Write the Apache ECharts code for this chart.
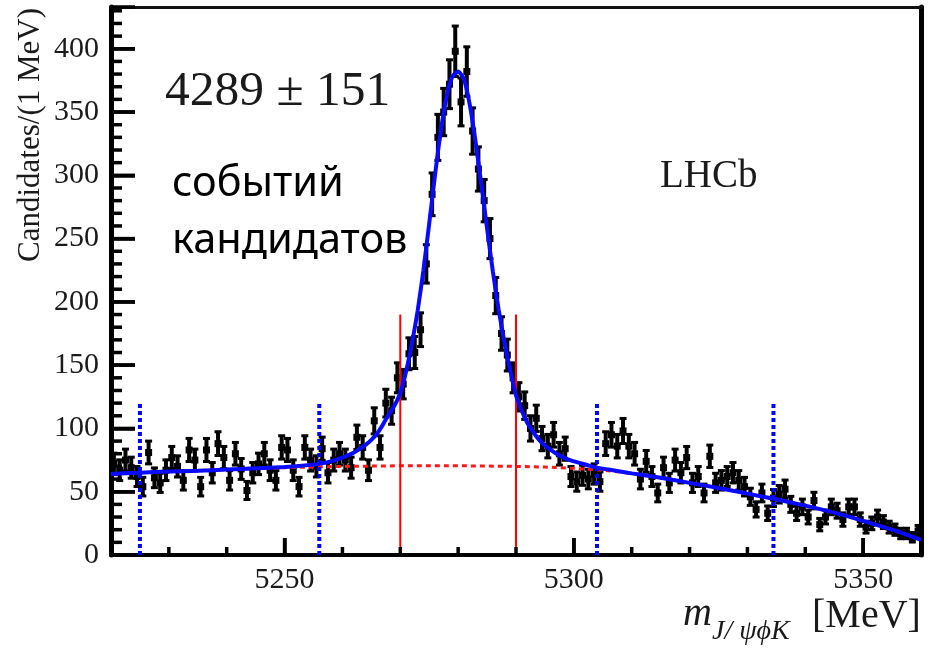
<!DOCTYPE html>
<html><head><meta charset="utf-8">
<script src="https://cdn.jsdelivr.net/npm/echarts@6/dist/echarts.min.js"></script>
<style>html,body{margin:0;padding:0;background:#fff}#c{width:932px;height:648px}</style>
</head><body><div id="c"></div>
<script>
// bin centres, MeV (1 MeV bins)
const binMass = [
5220.5,5221.5,5222.5,5223.5,5224.5,5225.5,5226.5,5227.5,5228.5,5229.5,
5230.5,5231.5,5232.5,5233.5,5234.5,5235.5,5236.5,5237.5,5238.5,5239.5,
5240.5,5241.5,5242.5,5243.5,5244.5,5245.5,5246.5,5247.5,5248.5,5249.5,
5250.5,5251.5,5252.5,5253.5,5254.5,5255.5,5256.5,5257.5,5258.5,5259.5,
5260.5,5261.5,5262.5,5263.5,5264.5,5265.5,5266.5,5267.5,5268.5,5269.5,
5270.5,5271.5,5272.5,5273.5,5274.5,5275.5,5276.5,5277.5,5278.5,5279.5,
5280.5,5281.5,5282.5,5283.5,5284.5,5285.5,5286.5,5287.5,5288.5,5289.5,
5290.5,5291.5,5292.5,5293.5,5294.5,5295.5,5296.5,5297.5,5298.5,5299.5,
5300.5,5301.5,5302.5,5303.5,5304.5,5305.5,5306.5,5307.5,5308.5,5309.5,
5310.5,5311.5,5312.5,5313.5,5314.5,5315.5,5316.5,5317.5,5318.5,5319.5,
5320.5,5321.5,5322.5,5323.5,5324.5,5325.5,5326.5,5327.5,5328.5,5329.5,
5330.5,5331.5,5332.5,5333.5,5334.5,5335.5,5336.5,5337.5,5338.5,5339.5,
5340.5,5341.5,5342.5,5343.5,5344.5,5345.5,5346.5,5347.5,5348.5,5349.5,
5350.5,5351.5,5352.5,5353.5,5354.5,5355.5,5356.5,5357.5,5358.5,5359.5];
// candidates per bin
const candidates = [
72,67,75,69,62,54,81,61,57,67,
77,70,59,83,75,54,83,65,88,77,
59,80,68,51,65,72,80,67,59,85,
83,67,54,85,75,70,84,65,75,80,
75,69,93,85,67,106,85,120,114,140,
135,159,160,178,230,285,330,350,372,398,
358,382,335,305,280,250,205,175,158,140,
125,118,100,108,92,86,95,80,84,62,
58,63,60,64,58,88,95,86,98,86,
80,60,74,62,49,69,57,75,65,77,
57,62,49,78,57,59,62,65,59,54,
46,36,49,33,45,48,52,40,33,38,
30,43,24,30,38,35,28,38,38,28,
22,25,30,26,22,20,17,17,14,19];
// total fit (blue)
const fitMass = [5220,5225,5230,5235,5240,5245,5250,5253,5256,5258,5260,5262,5264,5265,5266,5267,5268,5269,5270,5271,5272,5273,5274,5275,5276,5277,5278,5279,5280,5281,5282,5283,5284,5285,5286,5287,5288,5289,5290,5291,5292,5293,5294,5295,5296,5297,5298,5299,5300,5302,5304,5306,5308,5310,5315,5320,5325,5330,5335,5340,5345,5350,5355,5360];
const fitValue = [64,65,66,66.5,67.5,68.5,69.5,70.5,72,74,77,81,87,91,96,103,111,118,128,145,167,193,225,262,300,335,362,378,382,376,356,327,293,258,224,194,168,146,126,114,104,97,91,86.5,83,80,77.5,75.5,74,71.5,69,67.5,66,64.5,61,57,53,48.5,44,39,33.5,27,20,12];
// background component (red dotted)
const bkgMass = [5220,5230,5240,5250,5260,5270,5280,5290,5295,5300,5305,5310,5315,5320,5325,5330,5335,5340,5345,5350,5355,5360];
const bkgValue = [64,66,67.5,69,70,70.5,70.5,70,69.5,68.5,67,64.5,61,57,53,48.5,44,39,33.5,27,20,12];
// signal window (red) and sideband limits (blue dotted)
const signalLines = [5270, 5290];
const signalLineTop = 190;
const sidebandLines = [5225, 5256, 5304, 5334.5];
const sidebandLineTop = 120;
// axis ticks
const xTickLabels = [5250, 5300, 5350];
const xMinorTicks = [5230,5240,5260,5270,5280,5290,5310,5320,5330,5340];
const yTickLabels = [0,50,100,150,200,250,300,350,400];
const yMinorTicks = [10,20,30,40,60,70,80,90,110,120,130,140,160,170,180,190,210,220,230,240,260,270,280,290,310,320,330,340,360,370,380,390,410,420,430];
const xMin = 5220, xMax = 5360, yMin = 0, yMax = 433;

const serif = "'Liberation Serif', 'DejaVu Serif', serif";
const tickColor = '#1a1a1a';

const pts = binMass.map((m, i) => [m, candidates[i], Math.sqrt(candidates[i])]);

const series = [];
series.push({
  type: 'custom', z: 2, data: pts, clip: true,
  renderItem(params, api) {
    const x = api.value(0), v = api.value(1), e = api.value(2);
    const c = api.coord([x, v]);
    const t = api.coord([x, v + e]);
    const b = api.coord([x, v - e]);
    const s = 7;
    return { type: 'group', children: [
      { type: 'line', shape: { x1: c[0], y1: t[1], x2: c[0], y2: b[1] }, style: { stroke: '#000', lineWidth: 4 } },
      { type: 'line', shape: { x1: c[0] - 3.5, y1: t[1], x2: c[0] + 3.5, y2: t[1] }, style: { stroke: '#000', lineWidth: 3 } },
      { type: 'line', shape: { x1: c[0] - 3.5, y1: b[1], x2: c[0] + 3.5, y2: b[1] }, style: { stroke: '#000', lineWidth: 3 } },
      { type: 'rect', shape: { x: c[0] - s / 2, y: c[1] - s / 2, width: s, height: s }, style: { fill: '#000' } }
    ]};
  }
});
series.push({
  type: 'line', z: 3, symbol: 'none', smooth: false,
  data: bkgMass.map((m, i) => [m, bkgValue[i]]),
  lineStyle: { color: '#ff1a1a', width: 3, type: [5, 4] }
});
signalLines.forEach(m => series.push({
  type: 'line', z: 4, symbol: 'none',
  data: [[m, 0], [m, signalLineTop]],
  lineStyle: { color: '#ff0000', width: 2 }
}));
sidebandLines.forEach(m => series.push({
  type: 'line', z: 4, symbol: 'none',
  data: [[m, 0], [m, sidebandLineTop]],
  lineStyle: { color: '#0000ff', width: 4, type: [4, 3] }
}));
series.push({
  type: 'line', z: 5, symbol: 'none', smooth: 0.2,
  data: fitMass.map((m, i) => [m, fitValue[i]]),
  lineStyle: { color: '#0a0aff', width: 4 }
});
series.forEach(s => { s.xAxisIndex = 0; s.yAxisIndex = 0; s.animation = false; s.silent = true; });

const texts = [
  { type: 'text', x: 31, y: 8, rotation: Math.PI / 2,
    style: { text: 'Candidates/(1 MeV)', font: `31px ${serif}`, fill: tickColor, align: 'right', verticalAlign: 'middle' } },
  { type: 'text', x: 165, y: 92,
    style: { text: '4289 ± 151', font: `49.5px ${serif}`, fill: '#1a1a1a', align: 'left', verticalAlign: 'middle' } },
  { type: 'text', x: 172, y: 184,
    style: { text: 'событий', font: "41.5px 'Noto Sans', 'Open Sans', sans-serif", fill: '#000', align: 'left', verticalAlign: 'middle' } },
  { type: 'text', x: 172, y: 241,
    style: { text: 'кандидатов', font: "41.5px 'Noto Sans', 'Open Sans', sans-serif", fill: '#000', align: 'left', verticalAlign: 'middle' } },
  { type: 'text', x: 660, y: 177,
    style: { text: 'LHCb', font: `39px ${serif}`, fill: '#1a1a1a', align: 'left', verticalAlign: 'middle' } },
  { type: 'text', x: 683, y: 614,
    style: { text: 'm', font: `italic 40px ${serif}`, fill: '#1a1a1a', align: 'left', verticalAlign: 'middle' } },
  { type: 'text', x: 712, y: 632,
    style: { text: 'J/ ψϕK', font: `italic 28px ${serif}`, fill: '#1a1a1a', align: 'left', verticalAlign: 'middle' } },
  { type: 'text', x: 812, y: 616,
    style: { text: '[MeV]', font: `40px ${serif}`, fill: '#1a1a1a', align: 'left', verticalAlign: 'middle' } }
];

const chart = echarts.init(document.getElementById('c'), null, { renderer: 'canvas' });
chart.setOption({
  animation: false,
  backgroundColor: '#fff',
  grid: { left: 111, right: 11, top: 7, bottom: 93, show: false, containLabel: false, outerBoundsMode: 'none' },
  xAxis: [
    { type: 'value', min: xMin, max: xMax, position: 'bottom',
      axisLine: { show: true, onZero: false, lineStyle: { color: '#000', width: 4 } },
      axisTick: { show: true, inside: true, length: 17, customValues: xTickLabels, lineStyle: { color: '#000', width: 3.5 } },
      axisLabel: { show: true, customValues: xTickLabels, margin: 10, fontFamily: serif, fontSize: 30, color: tickColor,
        formatter: v => String(v) },
      splitLine: { show: false } },
    { type: 'value', min: xMin, max: xMax, position: 'top',
      axisLine: { show: true, onZero: false, lineStyle: { color: '#111', width: 3 } },
      axisTick: { show: false }, axisLabel: { show: false }, splitLine: { show: false } }
  ],
  yAxis: [
    { type: 'value', min: yMin, max: yMax, interval: 50, position: 'left',
      axisLine: { show: true, onZero: false, lineStyle: { color: '#000', width: 5 } },
      axisTick: { show: true, inside: true, length: 24, lineStyle: { color: '#000', width: 3.5 } },
      axisLabel: { show: true, margin: 12, fontFamily: serif, fontSize: 30, color: tickColor,
        formatter: v => (v % 50 === 0 ? String(v) : '') },
      splitLine: { show: false } },
    { type: 'value', min: yMin, max: yMax, position: 'right',
      axisLine: { show: true, onZero: false, lineStyle: { color: '#000', width: 5 } },
      axisTick: { show: false }, axisLabel: { show: false }, splitLine: { show: false } }
  ],
  series,
  graphic: texts
});

// tick marks placed through the grid's own scales
try {
  const toPx = p => chart.convertToPixel({ gridIndex: 0 }, p);
  const ticks = [];
  const tick = (x1, y1, x2, y2) => ticks.push({ type: 'line', z: 10, silent: true,
    shape: { x1, y1, x2, y2 }, style: { stroke: '#000', lineWidth: 3.5 } });
  yTickLabels.forEach(v => { const p = toPx([xMin, v]); tick(p[0], p[1], p[0] + 24, p[1]); });
  yMinorTicks.forEach(v => { const p = toPx([xMin, v]); tick(p[0], p[1], p[0] + 11, p[1]); });
  xTickLabels.forEach(v => { const p = toPx([v, yMin]); tick(p[0], p[1], p[0], p[1] - 17); });
  xMinorTicks.forEach(v => { const p = toPx([v, yMin]); tick(p[0], p[1], p[0], p[1] - 8); });
  chart.setOption({ graphic: texts.concat(ticks) });
} catch (e) { /* keep chart as drawn */ }
</script></body></html>
